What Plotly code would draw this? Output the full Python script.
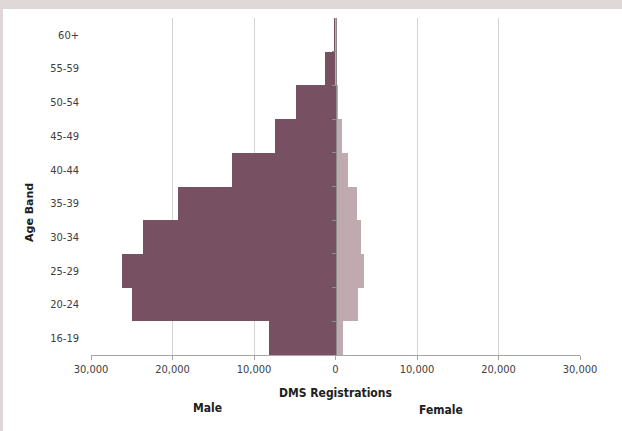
import plotly.graph_objects as go

age_bands = ["16-19", "20-24", "25-29", "30-34", "35-39", "40-44", "45-49", "50-54", "55-59", "60+"]
male = [8120, 24910, 26220, 23560, 19340, 12700, 7420, 4900, 1350, 100]
female = [980, 2780, 3510, 3070, 2650, 1550, 780, 320, 150, 30]
x_tickvals = [-30000, -20000, -10000, 0, 10000, 20000, 30000]
x_ticktext = ["30,000", "20,000", "10,000", "0", "10,000", "20,000", "30,000"]

MALE_C = "#775162"
FEMALE_C = "#bfaaaf"
FONT = "DejaVu Sans Condensed, Liberation Sans, sans-serif"

fig = go.Figure()
fig.add_trace(go.Bar(y=age_bands, x=[-v for v in male], orientation="h", name="Male",
                     marker=dict(color=MALE_C, line=dict(width=0)), hoverinfo="skip"))
fig.add_trace(go.Bar(y=age_bands, x=female, orientation="h", name="Female",
                     marker=dict(color=FEMALE_C, line=dict(width=0)), hoverinfo="skip"))
# invisible trace to hold the centre axis
fig.add_trace(go.Scatter(x=[0], y=[0], yaxis="y2", mode="markers",
                         marker=dict(opacity=0), showlegend=False, hoverinfo="skip"))

W, H = 622, 431
L, R, T, B = 91, 42, 18, 76
pw, ph = W - L - R, H - T - B

def px_x(px):
    return (px - L) / pw

def px_y(py):
    return (H - B - py) / ph

def label(text, x, y, size=12, family=FONT, angle=0):
    return dict(text=text, xref="paper", yref="paper", x=px_x(x), y=px_y(y),
                xanchor="center", yanchor="middle", showarrow=False, textangle=angle,
                font=dict(family=family, size=size, color="#202020"))

fig.update_layout(
    width=W, height=H,
    margin=dict(l=L, r=R, t=T, b=B),
    paper_bgcolor="white", plot_bgcolor="white",
    barmode="relative", bargap=0,
    showlegend=False,
    xaxis=dict(range=[-30000, 30000], tickvals=x_tickvals, ticktext=x_ticktext,
               showgrid=True, gridcolor="#d4d4d4", gridwidth=1,
               zeroline=False, showline=True, linecolor="#a6a6a6", linewidth=1,
               ticks="outside", ticklen=4, tickcolor="#a6a6a6",
               tickfont=dict(family=FONT, size=11, color="#404040"), fixedrange=True),
    yaxis=dict(type="category", categoryorder="array", categoryarray=age_bands,
               range=[-0.5, 9.5], showgrid=False, zeroline=False, showline=False,
               ticks="", ticklabelstandoff=11,
               tickfont=dict(family=FONT, size=11, color="#404040"), fixedrange=True),
    yaxis2=dict(overlaying="y", anchor="free", position=0.5, range=[-0.5, 9.5],
                showgrid=False, zeroline=False, showline=True, linecolor="#8c8c8c",
                linewidth=1, tickmode="array", tickvals=[i + 0.5 for i in range(9)],
                ticks="outside", ticklen=4, tickcolor="#8c8c8c",
                showticklabels=False, fixedrange=True),
    shapes=[
        dict(type="rect", xref="paper", yref="paper", x0=px_x(0), x1=px_x(W),
             y0=px_y(9), y1=px_y(0), fillcolor="#e0d7d9", line=dict(width=0), layer="below"),
        dict(type="rect", xref="paper", yref="paper", x0=px_x(0), x1=px_x(3),
             y0=px_y(H), y1=px_y(0), fillcolor="#e0d7d9", line=dict(width=0), layer="below"),
    ],
    annotations=[
        label("<b>DMS Registrations</b>", 335, 393),
        label("<b>Male</b>", 207, 408),
        label("<b>Female</b>", 441, 410),
        label("<b>Age Band</b>", 29, 213, size=11, family="DejaVu Sans", angle=-90),
    ],
)

fig.write_html("out.html", config={"displayModeBar": False},
               post_script="document.body.style.margin='0';document.body.style.overflow='hidden';")
